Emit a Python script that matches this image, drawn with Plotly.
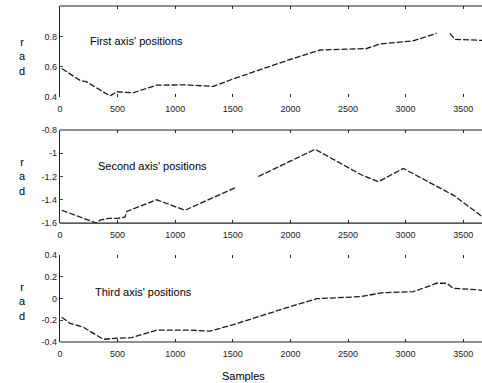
import plotly.graph_objects as go
from plotly.subplots import make_subplots

# Data
x1 = [15, 174, 231, 434, 492, 634, 839, 1100, 1330, 1505, 1968, 2257, 2662, 2778, 3064, 3270, None, 3385, 3429, 3617, 3663]
y1 = [0.588, 0.51, 0.50, 0.407, 0.435, 0.428, 0.479, 0.48, 0.47, 0.52, 0.64, 0.71, 0.72, 0.75, 0.77, 0.82, None, 0.82, 0.78, 0.775, 0.773]

x2 = [15, 318, 347, 420, 500, 564, 579, 839, 1085, 1534, None, 1721, 2214, 2619, 2763, 2980, 3413, 3646, 3663]
y2 = [-1.49, -1.60, -1.575, -1.56, -1.56, -1.55, -1.50, -1.40, -1.49, -1.29, None, -1.20, -0.966, -1.187, -1.245, -1.13, -1.36, -1.53, -1.55]

x3 = [15, 87, 203, 376, 477, 622, 839, 1100, 1302, 1505, 1968, 2228, 2604, 2804, 3068, 3270, 3357, 3413, 3630, 3663]
y3 = [-0.173, -0.228, -0.265, -0.375, -0.366, -0.36, -0.29, -0.29, -0.30, -0.24, -0.085, -0.002, 0.017, 0.053, 0.063, 0.14, 0.14, 0.094, 0.08, 0.075]

titles = ["First axis' positions", "Second axis' positions", "Third axis' positions"]
x_ticks = [0, 500, 1000, 1500, 2000, 2500, 3000, 3500]
y_ranges = [[0.4, 1.0], [-1.6, -0.8], [-0.4, 0.4]]
y_ticks = [[0.4, 0.6, 0.8], [-1.6, -1.4, -1.2, -1.0, -0.8], [-0.4, -0.2, 0, 0.2, 0.4]]
y_ticktext = [["0.4", "0.6", "0.8"], ["-1.6", "-1.4", "-1.2", "-1", "-0.8"], ["-0.4", "-0.2", "0", "0.2", "0.4"]]

fig = make_subplots(rows=3, cols=1, shared_xaxes=False)
series = [(x1, y1), (x2, y2), (x3, y3)]
for i, (xs, ys) in enumerate(series):
    fig.add_trace(go.Scatter(x=xs, y=ys, mode="lines", connectgaps=False,
                             line=dict(color="#1a1a1a", width=1.3, dash="6px,2px"),
                             showlegend=False), row=i + 1, col=1)

domains = [[0.729, 1.0], [0.354, 0.631], [0.0, 0.259]]
title_pos = [(0.066, 0.62), (0.085, 0.61), (0.078, 0.58)]
rad_pos = [0.44, 0.505, 0.47]
font = "Liberation Sans, Arial, sans-serif"
for i in range(3):
    n = "" if i == 0 else str(i + 1)
    fig.layout["xaxis" + n].update(range=[0, 3663], tickvals=x_ticks, ticks="inside", ticklen=3,
                                   showline=True, linecolor="rgba(0,0,0,0)", mirror="ticks",
                                   tickcolor="#222", showgrid=False, zeroline=False,
                                   ticklabelstandoff=3,
                                   tickfont=dict(size=9, family=font, color="#222"))
    fig.layout["yaxis" + n].update(range=y_ranges[i], domain=domains[i], tickvals=y_ticks[i],
                                   ticktext=y_ticktext[i], ticks="inside", ticklen=3,
                                   showline=True, linecolor="#222", linewidth=1.2,
                                   showgrid=False, zeroline=False,
                                   tickfont=dict(size=9, family=font, color="#222"))
    xd = "x" + n + " domain"
    yd = "y" + n + " domain"
    if i in (0, 1):
        fig.add_shape(type="line", xref=xd, yref=yd, x0=0, x1=1, y0=1, y1=1,
                      line=dict(color="#222", width=1.2))
    if i in (1, 2):
        fig.add_shape(type="line", xref=xd, yref=yd, x0=0, x1=1, y0=0, y1=0,
                      line=dict(color="#222", width=1.2))
    fig.add_annotation(xref=xd, yref=yd, x=title_pos[i][0], y=title_pos[i][1], text=titles[i],
                       showarrow=False, xanchor="left", yanchor="middle",
                       font=dict(size=11, family=font, color="#000"))
    fig.add_annotation(xref="paper", yref=yd, x=-0.09, y=rad_pos[i],
                       text="r<br>a<br>d", showarrow=False, xanchor="center", yanchor="middle",
                       font=dict(size=11, family=font, color="#000"))

fig.add_annotation(xref="paper", yref="paper", x=0.435, y=-0.101, text="Samples", showarrow=False,
                   xanchor="center", yanchor="middle", font=dict(size=11, family=font, color="#000"))

fig.update_layout(width=482, height=383, margin=dict(l=60, r=0, t=6, b=41),
                  paper_bgcolor="white", plot_bgcolor="white")
fig.write_html("out.html", config={"displayModeBar": False},
               post_script="document.body.style.margin='0';document.body.style.overflow='hidden';")
